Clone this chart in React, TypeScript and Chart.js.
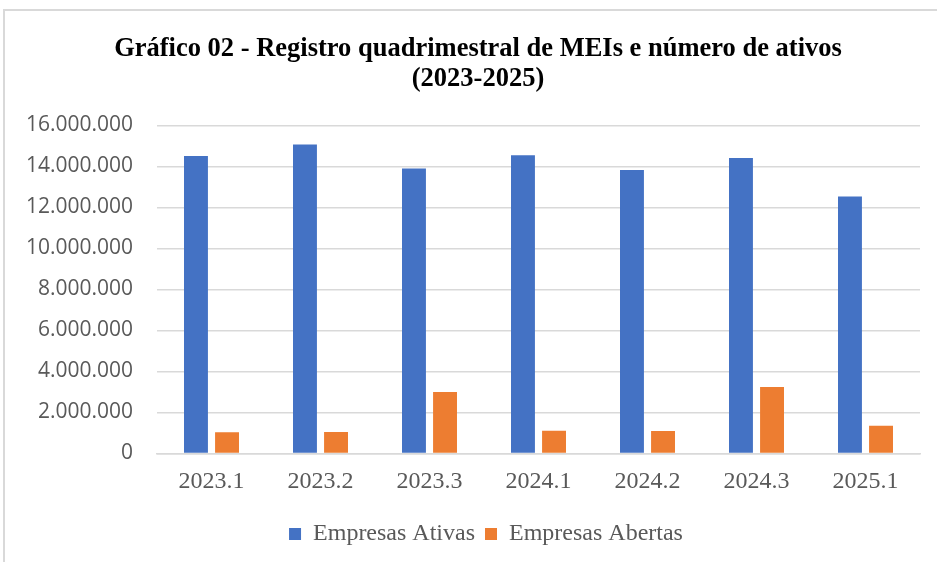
import React, { useEffect, useRef } from "react";
import { Chart, registerables } from "chart.js";

Chart.register(...registerables);

const categories = ["2023.1", "2023.2", "2023.3", "2024.1", "2024.2", "2024.3", "2025.1"];
const empresasAtivas = [14500000, 15060000, 13900000, 14540000, 13820000, 14410000, 12530000];
const empresasAbertas = [1030000, 1050000, 3000000, 1110000, 1100000, 3240000, 1350000];
const titleLines = ["Gráfico 02 - Registro quadrimestral de MEIs e número de ativos", "(2023-2025)"];
const seriesNames = ["Empresas Ativas", "Empresas Abertas"];

const fmt = (v: number) => String(Math.round(v)).replace(/\B(?=(\d{3})+(?!\d))/g, ".");

const shiftPlugin = {
  id: "shiftBlocks",
  afterLayout(chart: any) {
    const lg = chart.legend;
    if (lg) {
      lg.left += 16;
      lg.right += 16;
    }
    const tb = chart.titleBlock;
    if (tb) {
      tb.left += 8;
      tb.right += 8;
    }
  },
};

export default function App() {
  const ref = useRef<HTMLCanvasElement | null>(null);
  useEffect(() => {
    document.body.style.margin = "0";
    if (!ref.current) return;
    const chart = new Chart(ref.current, {
      type: "bar",
      data: {
        labels: categories,
        datasets: [
          {
            label: seriesNames[0],
            data: empresasAtivas,
            backgroundColor: "#4472C4",
            barPercentage: 0.77,
            categoryPercentage: 0.57,
          },
          {
            label: seriesNames[1],
            data: empresasAbertas,
            backgroundColor: "#ED7D31",
            barPercentage: 0.77,
            categoryPercentage: 0.57,
          },
        ],
      },
      plugins: [shiftPlugin],
      options: {
        animation: false,
        responsive: false,
        maintainAspectRatio: false,
        layout: { padding: { left: 20, right: 17, top: 0, bottom: 6 } },
        plugins: {
          title: {
            display: true,
            text: titleLines,
            color: "#000000",
            font: { family: "'Liberation Serif', 'Times New Roman', serif", size: 26.5, weight: "bold", lineHeight: 1.1 },
            padding: { top: 35, bottom: 32 },
          },
          legend: {
            position: "bottom",
            labels: {
              color: "#595959",
              font: { family: "'Liberation Serif', 'Times New Roman', serif", size: 24 },
              boxWidth: 12,
              boxHeight: 12,
              padding: 10,
            },
          },
          tooltip: { enabled: false },
        },
        scales: {
          x: {
            grid: { display: false, drawTicks: false },
            border: { display: true, color: "#d9d9d9", width: 1.5 },
            ticks: {
              color: "#595959",
              font: { family: "'Liberation Serif', 'Times New Roman', serif", size: 24 },
              padding: 14,
              maxRotation: 0,
            },
            afterFit: (s: any) => {
              s.height = 58.5;
            },
          },
          y: {
            min: 0,
            max: 16000000,
            grid: { color: "#d9d9d9", lineWidth: 1.5, drawTicks: false },
            border: { display: false },
            ticks: {
              stepSize: 2000000,
              color: "#595959",
              font: { family: "'Open Sans', sans-serif", size: 21 },
              padding: 24,
              callback: (v: any) => fmt(Number(v)),
            },
            afterFit: (s: any) => {
              s.width = 137;
            },
          },
        },
      },
    });
    return () => chart.destroy();
  }, []);
  return (
    <div style={{ position: "fixed", left: 0, top: 0, width: 937, height: 562, background: "#fff", overflow: "hidden" }}>
      <div
        style={{
          position: "absolute",
          left: 3,
          top: 9,
          width: 960,
          height: 600,
          borderLeft: "2px solid #d9d9d9",
          borderTop: "2px solid #d9d9d9",
        }}
      />
      <canvas ref={ref} width={937} height={562} style={{ position: "absolute", left: 0, top: 0 }} />
    </div>
  );
}
